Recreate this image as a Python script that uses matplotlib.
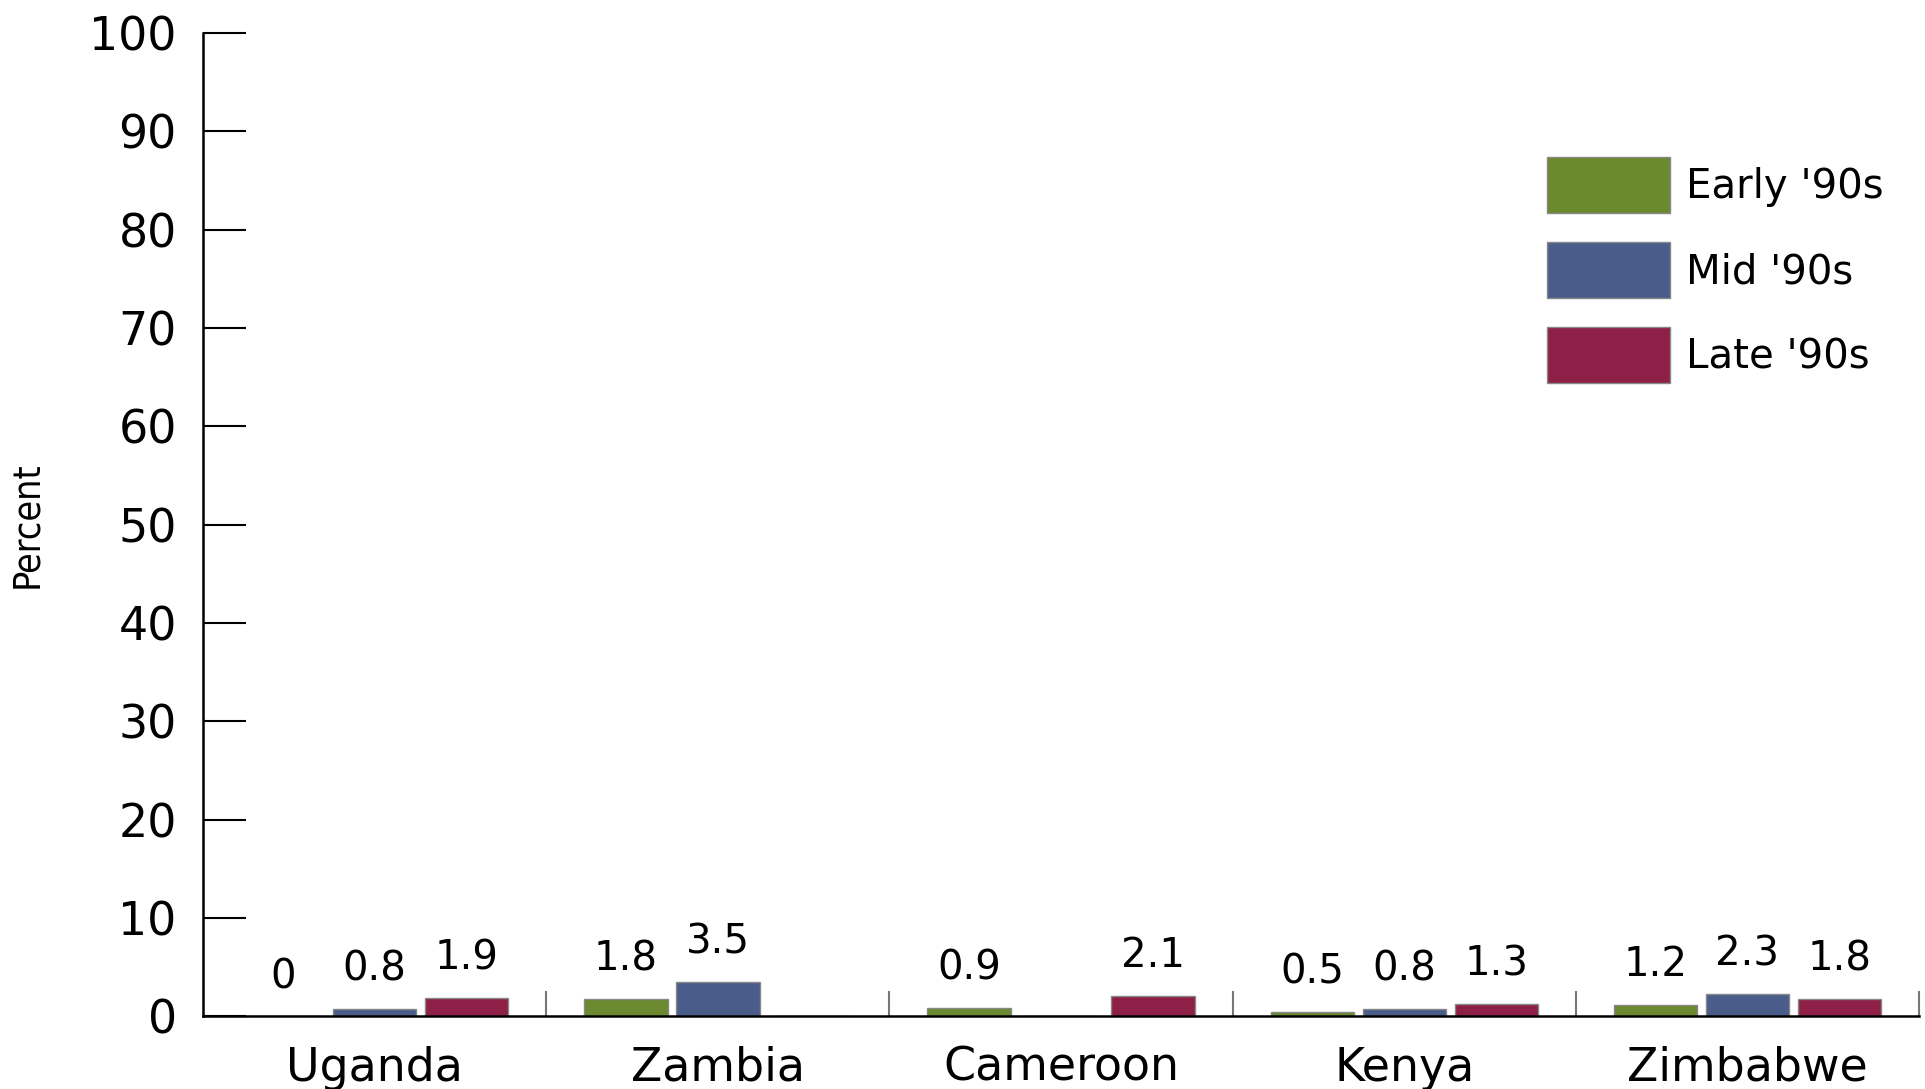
import numpy as np
import matplotlib
matplotlib.use("Agg")
import matplotlib.pyplot as plt

plt.rcParams['font.family'] = ['DejaVu Sans']

# data
countries = ['Uganda', 'Zambia', 'Cameroon', 'Kenya', 'Zimbabwe']
periods = ["Early '90s", "Mid '90s", "Late '90s"]
early = [0, 1.8, 0.9, 0.5, 1.2]
mid = [0.8, 3.5, np.nan, 0.8, 2.3]
late = [1.9, np.nan, 2.1, 1.3, 1.8]
colors = ['#6b8a2f', '#4a5c8a', '#8e1f46']

fig = plt.figure(figsize=(19.25, 10.89), dpi=100)
ax = fig.add_axes([0.1055, 0.0666, 0.8914, 0.9031])

x = np.arange(len(countries))
offsets = [-0.268, 0, 0.268]
width = 0.243

for vals, off, col, lab in zip([early, mid, late], offsets, colors, periods):
    vals = np.array(vals, dtype=float)
    ax.bar(x + off, np.nan_to_num(vals), width=width, color=col,
           edgecolor='#888888', linewidth=1, label=lab)
    for xi, v in zip(x + off, vals):
        if np.isnan(v):
            continue
        ax.annotate(f'{v:g}', (xi, v), xytext=(0, 14), textcoords='offset points',
                    ha='center', va='bottom', fontsize=29)

ax.set_xlim(-0.5, len(countries) - 0.5)
ax.set_ylim(0, 100)
ax.set_yticks(np.arange(0, 101, 10))
ax.tick_params(axis='y', direction='in', length=31, width=1.5, pad=19, labelsize=33)

ax.set_xticks(x)
ax.set_xticklabels(countries)
ax.tick_params(axis='x', which='major', length=0, pad=21, labelsize=33)
ax.set_xticks(x + 0.5, minor=True)
ax.tick_params(axis='x', which='minor', direction='in', length=18, width=1.5, color='#777777')

for s in ['top', 'right']:
    ax.spines[s].set_visible(False)
ax.spines['left'].set_linewidth(1.8)
ax.spines['bottom'].set_linewidth(1.8)

ax.set_ylabel('Percent', fontsize=27, fontstretch='condensed')
ax.yaxis.set_label_coords(-0.092, 0.5)

ax.legend(loc='upper left', bbox_to_anchor=(0.774, 0.89), frameon=False, fontsize=29,
          handlelength=3.05, handleheight=1.75, handletextpad=0.4, labelspacing=0.73,
          borderaxespad=0)

fig.savefig('out.png', dpi=100)
